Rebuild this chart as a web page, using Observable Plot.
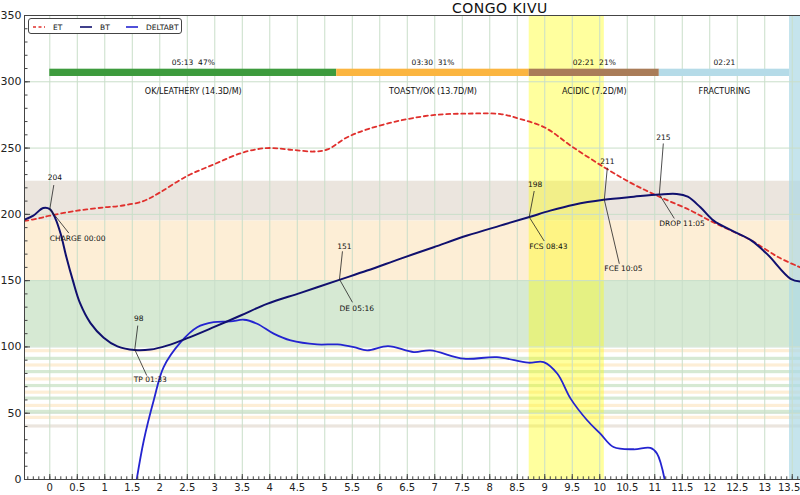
<!DOCTYPE html>
<html><head><meta charset="utf-8">
<script src="https://cdn.jsdelivr.net/npm/d3@7"></script>
<script src="https://cdn.jsdelivr.net/npm/@observablehq/plot@0.6"></script>
<style>
body{margin:0;background:#fff;}
#wrap{position:relative;width:800px;height:495px;overflow:hidden;font-family:"DejaVu Sans",sans-serif;}
#title{position:absolute;left:452px;top:1px;font-size:14px;letter-spacing:0.5px;color:#111;line-height:14px;}
#legend{position:absolute;left:28px;top:18px;width:152px;height:14px;border:1px solid #444;border-radius:3px;background:#fff;}
</style></head>
<body><div id="wrap"></div>
<script>
// ---------- data ----------
const title = "CONGO KIVU";

const etTime = [-0.46, -0.2, 0, 0.5, 1, 1.3, 1.7, 2, 2.5, 3, 3.5, 3.95, 4.4, 4.8, 5.05, 5.4, 5.8, 6.4, 7, 7.6, 8.2, 8.55, 9, 9.5, 10.1, 10.6, 11.1, 11.65, 12, 12.4, 12.75, 13.25, 13.65];
const etVals = [195, 197, 199, 202.8, 205.3, 206.5, 210, 216.5, 229, 238, 246.5, 250, 248.7, 247.4, 249, 258, 264.5, 271, 275, 276, 275.6, 272, 265.5, 251, 235, 223, 213, 203, 195.3, 187.5, 180.5, 167.6, 160];

const btTime = [-0.46, -0.3, -0.12, 0, 0.1, 0.2, 0.3, 0.42, 0.55, 0.74, 0.98, 1.23, 1.545, 1.83, 2.13, 2.5, 2.98, 3.47, 3.95, 4.56, 5.25, 5.77, 6.38, 6.98, 7.59, 8.19, 8.72, 9.1, 9.53, 10.07, 10.62, 11.08, 11.4, 11.6, 11.83, 12.07, 12.44, 12.74, 13.04, 13.47, 13.65];
const btVals = [196, 199, 204.8, 204, 197, 185, 168, 150, 133, 118, 107, 100.4, 97.6, 98, 101, 106.6, 114.9, 123.7, 132.5, 140.8, 150.4, 157.6, 166.6, 175.2, 184, 191.5, 198, 202.8, 207.3, 211, 213.3, 215, 215.4, 213.3, 205.3, 195.3, 187, 180.7, 170.2, 151.4, 149.3];

const dTime = [1.58, 1.71, 1.89, 2.07, 2.38, 2.68, 2.98, 3.29, 3.53, 3.77, 4.07, 4.38, 4.86, 5.23, 5.53, 5.77, 6.15, 6.62, 6.92, 7.53, 8.13, 8.7, 8.98, 9.23, 9.47, 9.77, 10.01, 10.25, 10.62, 10.92, 11.04, 11.18];
const dVals = [0, 29.6, 59.7, 84.8, 103.6, 114.9, 118.7, 119.2, 120.5, 117.5, 110, 104.9, 101.9, 101.9, 99.9, 97.4, 100.6, 96.1, 97.4, 91.1, 92.3, 88.1, 88.6, 79.8, 61, 44.7, 34.6, 24.5, 22.8, 23.8, 19.6, 0];

// roast events
const evName  = ["CHARGE", "TP", "DE", "FCS", "FCE", "DROP"];
const evClock = ["00:00", "01:33", "05:16", "08:43", "10:05", "11:05"];
const evTime  = [0, 1.545, 5.267, 8.717, 10.083, 11.083];
const evTemp  = [204, 98, 151, 198, 211, 215];

// phases
const phaseStart = [0, 5.217, 8.717, 11.083];
const phaseEnd   = [5.217, 8.717, 11.083, 13.45];
const phaseKind  = ["drying", "maillard", "finishing", "cooling"];
const phaseTop   = ["05:13  47%", "03:30  31%", "02:21  21%", "02:21"];
const phaseBottom = ["OK/LEATHERY (14.3D/M)", "TOASTY/OK (13.7D/M)", "ACIDIC (7.2D/M)", "FRACTURING"];

// background bands (temperature)
const bandLo = [195, 150, 100];
const bandHi = [225, 195, 150];
const bandKind = ["finishing", "maillard", "drying"];
const stripeLo = [95.6, 89.8, 84.8, 79.8, 74.3, 69.3, 64.3, 59.8, 54.3, 49.8, 45.3, 38.8];
const stripeHi = [98, 92.2, 87.2, 82.2, 76.7, 71.7, 66.7, 62.2, 56.7, 52.2, 47.7, 41.2];
const stripeKind = ["maillard", "drying", "maillard", "drying", "maillard", "drying", "maillard", "drying", "maillard", "drying", "maillard", "finishing"];

// first crack window, cooling window
const fcStart = 8.717, fcEnd = 10.083;
const coolStart = 13.45;

const xTicks = d3.range(0, 28).map(i => i / 2);
const xMinor = d3.range(-4, 137).map(i => i / 10);
const yTicks = d3.range(0, 351, 50);
const yMinor = d3.range(0, 351, 10);

// ---------- layout ----------
const W = 800, H = 495, ML = 24, MR = 0, MT = 15, MB = 16;
const X0 = -0.46, X1 = 13.65, Y0 = 0, Y1 = 350;
const pxPerMin = (W - ML - MR) / (X1 - X0);
const pxPerDeg = (H - MT - MB) / (Y1 - Y0);
const bandColor = {drying: "#d6e9d3", maillard: "#fdeed6", finishing: "#ebe5de", cooling: "#add8e6"};
const phaseColor = {drying: "#3d9b3d", maillard: "#fbb540", finishing: "#a97c58", cooling: "#b5dbe8"};
const barLo = 304, barHi = 309.5, topLabelY = 314.2, bottomLabelY = 293;
// annotation label offsets (pixels from event point)
const upLine  = [[4,-24],[3,-24],[3,-28],[5,-26],[3,-32],[4,-51]];
const upText  = [[5,-31],[4,-31],[5,-33],[6,-32],[3,-38],[4,-57]];
const lowLine = [[19,24],[12,26],[13,23],[15,24],[15,64],[15,24]];
const lowText = [[0,30],[-1,30],[0,29],[0,30],[0,69],[0,29]];

const toX = (t, dx) => t + dx / pxPerMin;
const toY = (v, dy) => v - dy / pxPerDeg;

const et = etTime.map((t, i) => ({t, v: etVals[i]}));
const bt = btTime.map((t, i) => ({t, v: btVals[i]}));
const dbt = dTime.map((t, i) => ({t, v: dVals[i]}));
const bands = bandLo.map((lo, i) => ({lo, hi: bandHi[i], kind: bandKind[i]}));
const stripes = stripeLo.map((lo, i) => ({lo, hi: stripeHi[i], kind: stripeKind[i]}));
const phases = phaseStart.map((s, i) => ({s, e: phaseEnd[i], kind: phaseKind[i], top: phaseTop[i], bottom: phaseBottom[i], mid: (s + phaseEnd[i]) / 2}));
const events = evName.map((n, i) => ({
  t: evTime[i], v: evTemp[i],
  up: String(evTemp[i]), low: n + " " + evClock[i],
  upx: toX(evTime[i], upText[i][0]), upy: toY(evTemp[i], upText[i][1]),
  lowx: toX(evTime[i], lowText[i][0]), lowy: toY(evTemp[i], lowText[i][1])
}));
const leaders = events.flatMap((e, i) => [
  {x1: e.t, y1: e.v, x2: toX(e.t, upLine[i][0]), y2: toY(e.v, upLine[i][1])},
  {x1: e.t, y1: e.v, x2: toX(e.t, lowLine[i][0]), y2: toY(e.v, lowLine[i][1])}
]);

const font = "DejaVu Sans, sans-serif";
const fmt = d => String(d);

const chart = Plot.plot({
  width: W, height: H,
  marginLeft: ML, marginRight: MR, marginTop: MT, marginBottom: MB,
  style: {fontFamily: font, background: "#fff", color: "#222"},
  x: {domain: [X0, X1]},
  y: {domain: [Y0, Y1]},
  marks: [
    Plot.rect(bands, {y1: "lo", y2: "hi", fill: d => bandColor[d.kind]}),
    Plot.rect(stripes, {y1: "lo", y2: "hi", fill: d => bandColor[d.kind]}),
    Plot.rect([{a: fcStart, b: fcEnd}], {x1: "a", x2: "b", fill: "#ffff00", fillOpacity: 0.38}),
    Plot.rect([{a: coolStart, b: X1}], {x1: "a", x2: "b", fill: "#add8e6", fillOpacity: 0.7}),
    Plot.ruleX(xTicks, {stroke: "#c9dec9", strokeWidth: 1}),
    Plot.ruleY(yTicks, {stroke: "#c9dec9", strokeWidth: 1}),
    // phase bar
    Plot.rect(phases, {x1: "s", x2: "e", y1: barLo, y2: barHi, fill: d => phaseColor[d.kind]}),
    Plot.text(phases, {x: "mid", y: topLabelY, text: "top", fontSize: 7.5, fill: "#111"}),
    Plot.text(phases, {x: "mid", y: bottomLabelY, text: "bottom", fontSize: 8, fill: "#111"}),
    // curves
    Plot.line(et, {x: "t", y: "v", stroke: "#e0302d", strokeWidth: 1.8, strokeDasharray: "4,3.5", curve: "catmull-rom", clip: true}),
    Plot.line(dbt, {x: "t", y: "v", stroke: "#2424d0", strokeWidth: 1.8, curve: "catmull-rom", clip: true}),
    Plot.line(bt, {x: "t", y: "v", stroke: "#10106e", strokeWidth: 2, curve: "catmull-rom", clip: true}),
    // annotations
    Plot.link(leaders, {x1: "x1", y1: "y1", x2: "x2", y2: "y2", stroke: "#222", strokeWidth: 0.8}),
    Plot.text(events, {x: "upx", y: "upy", text: "up", fontSize: 7.5, fill: "#111"}),
    Plot.text(events, {x: "lowx", y: "lowy", text: "low", fontSize: 7.5, fill: "#111", textAnchor: "start"}),
    // frame & ticks
    Plot.ruleY([Y1], {stroke: "#444", strokeWidth: 1}),
    Plot.ruleY([Y0], {stroke: "#444", strokeWidth: 1}),
    Plot.ruleX([X0], {stroke: "#444", strokeWidth: 1}),
    Plot.ruleY(yTicks, {y: d => d, x1: X0, x2: X0 + 6 / pxPerMin, stroke: "#444"}),
    Plot.ruleY(yMinor, {y: d => d, x1: X0, x2: X0 + 3.5 / pxPerMin, stroke: "#444"}),
    Plot.ruleX(xTicks, {x: d => d, y1: Y0, y2: Y0 + 5 / pxPerDeg, stroke: "#444"}),
    Plot.ruleX(xMinor.filter(d => d > X0), {x: d => d, y1: Y0, y2: Y0 + 2.7 / pxPerDeg, stroke: "#444"}),
    Plot.axisY(yTicks, {anchor: "left", tickSize: 0, tickPadding: 3, fontSize: 11, label: null, tickFormat: fmt}),
    Plot.axisX(xTicks.slice(0, -1), {anchor: "bottom", tickSize: 0, tickPadding: 4, fontSize: 10, label: null, tickFormat: fmt}),
    Plot.axisX(xTicks.slice(-1), {anchor: "bottom", tickSize: 0, tickPadding: 4, fontSize: 10, label: null, tickFormat: fmt, textAnchor: "end", dx: 8})
  ]
});

const wrap = document.getElementById("wrap");
wrap.appendChild(chart);

const t = document.createElement("div");
t.id = "title";
t.textContent = title;
wrap.appendChild(t);

// legend
const legendNames = ["ET", "BT", "DELTABT"];
const legendColors = ["#e0302d", "#10106e", "#2424d0"];
const legendDash = ["3,2.5", null, null];
const lg = document.createElement("div");
lg.id = "legend";
const ns = "http://www.w3.org/2000/svg";
const ls = document.createElementNS(ns, "svg");
ls.setAttribute("width", 152); ls.setAttribute("height", 14);
const lx = [4, 51, 97];
legendNames.forEach((n, i) => {
  const l = document.createElementNS(ns, "line");
  l.setAttribute("x1", lx[i]); l.setAttribute("x2", lx[i] + 12);
  l.setAttribute("y1", 7); l.setAttribute("y2", 7);
  l.setAttribute("stroke", legendColors[i]); l.setAttribute("stroke-width", 1.6);
  if (legendDash[i]) l.setAttribute("stroke-dasharray", legendDash[i]);
  ls.appendChild(l);
  const tx = document.createElementNS(ns, "text");
  tx.setAttribute("x", lx[i] + 20); tx.setAttribute("y", 9.5);
  tx.setAttribute("font-size", 7.5); tx.setAttribute("font-family", font);
  tx.setAttribute("fill", "#111");
  tx.textContent = n;
  ls.appendChild(tx);
});
lg.appendChild(ls);
wrap.appendChild(lg);
</script>
</body></html>
